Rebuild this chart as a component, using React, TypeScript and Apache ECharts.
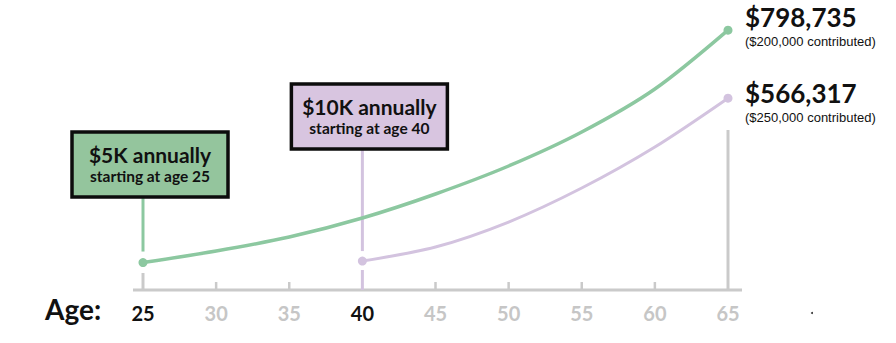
import React, { useEffect, useRef } from "react";
import * as echarts from "echarts";

const earlyAges = [25, 30, 35, 40, 45, 50, 55, 60, 65];
const earlyValues = [5000, 44400, 92200, 157100, 239100, 334700, 450800, 597600, 798735];
const lateAges = [40, 45, 50, 55, 60, 65];
const lateValues = [10000, 58100, 143400, 259500, 399600, 566317];
const tickAges = [25, 30, 35, 40, 45, 50, 55, 60, 65];
const highlightedAges = [25, 40];
const earlyTitle = "$5K annually";
const earlySub = "starting at age 25";
const lateTitle = "$10K annually";
const lateSub = "starting at age 40";
const earlyTotal = "$798,735";
const earlyContrib = "($200,000 contributed)";
const lateTotal = "$566,317";
const lateContrib = "($250,000 contributed)";

const GREEN = "#8cc8a0";
const GREEN_FILL = "#94c59d";
const PURPLE = "#d3c3df";
const PURPLE_FILL = "#d8c5e0";
const GRAY = "#cacaca";
const DARK = "#111111";
const FONT = "Lato, 'Open Sans', sans-serif";

export default function App() {
  const ref = useRef<HTMLDivElement>(null);
  useEffect(() => {
    if (!ref.current) return;
    const chart = echarts.init(ref.current, null, { renderer: "svg" });
    const endSym = (len: number) => (_v: any, params: any) =>
      params.dataIndex === 0 || params.dataIndex === len - 1 ? 9 : 0;
    chart.setOption({
      animation: false,
      grid: { left: 143, right: 168, top: 21, bottom: 79 },
      xAxis: {
        type: "value",
        min: 25,
        max: 65,
        interval: 5,
        offset: 26,
        splitLine: { show: false },
        axisLine: { show: false },
        axisTick: { show: false },
        axisLabel: {
          margin: 13,
          formatter: (v: number) =>
            tickAges.includes(v) ? (highlightedAges.includes(v) ? `{b|${v}}` : `{g|${v}}`) : "",
          rich: {
            b: { fontFamily: FONT, fontWeight: "bold", fontSize: 20, color: DARK },
            g: { fontFamily: FONT, fontWeight: "bold", fontSize: 20, color: "#c6c6c6" },
          },
        },
      },
      yAxis: { type: "value", min: 0, max: 830000, show: false },
      series: [
        {
          type: "line",
          data: earlyAges.map((a, i) => [a, earlyValues[i]]),
          smooth: 0.3,
          symbol: "circle",
          symbolSize: endSym(earlyAges.length),
          showAllSymbol: true,
          lineStyle: { color: GREEN, width: 3.5 },
          itemStyle: { color: GREEN },
          z: 5,
        },
        {
          type: "line",
          data: lateAges.map((a, i) => [a, lateValues[i]]),
          smooth: 0.3,
          symbol: "circle",
          symbolSize: endSym(lateAges.length),
          showAllSymbol: true,
          lineStyle: { color: PURPLE, width: 3 },
          itemStyle: { color: PURPLE },
          z: 5,
        },
      ],
    });

    const px = (x: number, y: number) =>
      chart.convertToPixel({ xAxisIndex: 0, yAxisIndex: 0 }, [x, y]) as number[];
    const x25 = px(earlyAges[0], 0)[0];
    const x40 = px(lateAges[0], 0)[0];
    const x65 = px(65, 0)[0];
    const axisY = px(25, 0)[1] + 26;
    const gStart = px(earlyAges[0], earlyValues[0]);
    const pStart = px(lateAges[0], lateValues[0]);

    const line = (x1: number, y1: number, x2: number, y2: number, color: string, w: number) => ({
      type: "line",
      shape: { x1, y1, x2, y2 },
      style: { stroke: color, lineWidth: w },
      z: 1,
    });
    const box = (cx: number, top: number, fill: string, title: string, sub: string) => [
      {
        type: "rect",
        shape: { x: cx - 71, y: top, width: 156, height: 65 },
        style: { fill, stroke: "#0c0c0c", lineWidth: 3.5 },
        z: 10,
      },
      {
        type: "text",
        x: cx + 7,
        y: top + 22,
        style: {
          text: title,
          font: `bold 21px ${FONT}`,
          fill: DARK,
          align: "center",
          verticalAlign: "middle",
        },
        z: 11,
      },
      {
        type: "text",
        x: cx + 7,
        y: top + 44,
        style: {
          text: sub,
          font: `bold 15.5px ${FONT}`,
          fill: DARK,
          align: "center",
          verticalAlign: "middle",
        },
        z: 11,
      },
    ];
    const label = (y: number, big: string, small: string) => [
      {
        type: "text",
        x: x65 + 17,
        y,
        style: {
          text: big,
          font: `bold 26px ${FONT}`,
          fill: DARK,
          align: "left",
          verticalAlign: "middle",
        },
      },
      {
        type: "text",
        x: x65 + 17,
        y: y + 24,
        style: {
          text: small,
          font: `13px 'Liberation Sans', Arial, sans-serif`,
          fill: DARK,
          align: "left",
          verticalAlign: "middle",
        },
      },
    ];

    const plainTicks = tickAges
      .filter((a) => a !== 25 && a !== 40 && a !== 65)
      .map((a) => {
        const x = px(a, 0)[0];
        return line(x, axisY - 8, x, axisY, GRAY, 2.5);
      });

    chart.setOption({
      graphic: [
        line(x25 - 10, axisY, x65 + 14, axisY, GRAY, 3),
        ...plainTicks,
        line(x25, axisY - 17, x25, axisY, GRAY, 3),
        line(x65, 130, x65, axisY, GRAY, 3),
        line(x40, axisY - 20, x40, axisY, PURPLE, 3),
        line(x25, 196, x25, gStart[1] - 11, GREEN, 3),
        line(x40, 148, x40, pStart[1] - 10, PURPLE, 3),
        ...box(x25, 132, GREEN_FILL, earlyTitle, earlySub),
        ...box(x40, 84, PURPLE_FILL, lateTitle, lateSub),
        ...label(17, earlyTotal, earlyContrib),
        ...label(93, lateTotal, lateContrib),
        {
          type: "text",
          x: 45,
          y: 309,
          style: {
            text: "Age:",
            font: `bold 28px ${FONT}`,
            fill: DARK,
            align: "left",
            verticalAlign: "middle",
          },
        },
        { type: "circle", shape: { cx: 812, cy: 313, r: 1 }, style: { fill: "#333" } },
      ],
    });
    return () => chart.dispose();
  }, []);
  return (
    <div
      ref={ref}
      style={{ position: "fixed", left: 0, top: 0, width: 896, height: 343, background: "#fff" }}
    />
  );
}
